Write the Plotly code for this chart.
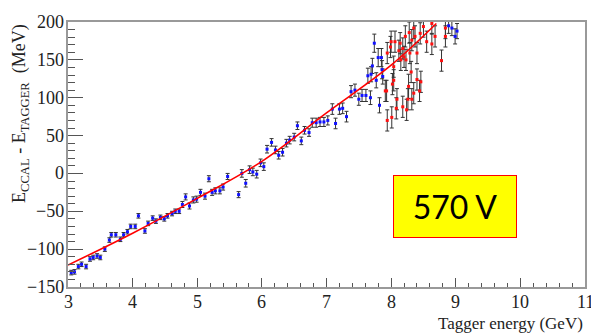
import plotly.graph_objects as go

# Blue data points (Tagger energy GeV, Ecal - Etagger MeV, error)
blue_x = [3.05, 3.10, 3.16, 3.21, 3.28, 3.34, 3.39, 3.45, 3.50, 3.57, 3.64, 3.67, 3.74, 3.81, 3.86,
          3.92, 3.97, 4.04, 4.09, 4.19, 4.24, 4.31, 4.36, 4.43, 4.49, 4.54, 4.61, 4.66, 4.72, 4.77,
          4.82, 4.88, 4.94, 4.99, 5.05, 5.12, 5.18, 5.23, 5.28, 5.35, 5.40, 5.47, 5.64, 5.69, 5.75,
          5.81, 5.86, 5.92, 5.98, 6.03, 6.08, 6.15, 6.21, 6.26, 6.32, 6.38, 6.43, 6.50, 6.55, 6.61,
          6.66, 6.73, 6.78, 6.84, 6.90, 6.96, 7.02, 7.09, 7.14, 7.20, 7.25, 7.31, 7.38, 7.44, 7.50,
          7.55, 7.61, 7.68, 7.64, 7.69, 7.71, 7.74, 7.77, 7.80, 7.85, 7.82, 7.86, 7.87, 8.89, 8.94,
          9.02, 8.99]
blue_y = [-131, -130, -123, -120, -123, -113, -111, -109, -111, -100, -88, -81, -81, -87, -81,
          -77, -70, -70, -56, -76, -66, -59, -63, -58, -60, -56, -53, -50, -50, -41,
          -31, -43, -35, -34, -25, -30, -7, -25, -23, -23, -18, -4, -28, 0, -13,
          5, 2, -1, 14, 9, 32, 41, 31, 24, 28, 40, 44, 48, 63, 43,
          57, 54, 67, 67, 68, 68, 70, 85, 66, 85, 86, 75, 108, 110, 98,
          103, 103, 100, 129, 131, 142, 172, 123, 153, 153, 90, 137, 128, 195, 192,
          188, 181]
blue_err = [3, 3, 3, 3, 3, 3, 3, 3, 3, 3, 3, 3, 3, 3, 3,
            3, 3, 3, 3, 3, 3, 3, 3, 3, 3, 3, 3, 3, 3, 4,
            4, 4, 4, 4, 4, 4, 4, 4, 4, 4, 4, 4, 4, 5, 5,
            5, 5, 5, 5, 5, 5, 5, 5, 5, 5, 5, 5, 5, 5, 5,
            5, 5, 6, 6, 6, 6, 6, 7, 7, 7, 7, 7, 8, 8, 8,
            8, 8, 9, 10, 10, 10, 12, 10, 12, 12, 10, 12, 10, 10, 10,
            10, 10]

# Red data points
red_x = [7.94, 8.01, 8.08, 8.09, 8.18, 8.24, 8.26, 8.32, 8.35, 8.27, 8.31, 8.40, 8.46, 8.02, 7.91,
         8.04, 8.15, 8.20, 8.23, 8.29, 8.40, 7.94, 7.99, 8.14, 8.00, 8.06, 8.22, 8.32, 8.37, 8.45,
         8.55, 8.63, 8.68, 8.35, 8.50, 8.63, 8.78, 8.84, 8.84, 7.93, 8.04, 8.44, 8.12, 8.18, 8.28]
red_y = [70, 74, 86, 98, 88, 84, 98, 98, 106, 115, 134, 124, 121, 118, 109,
         141, 150, 154, 150, 159, 159, 159, 167, 172, 174, 174, 181, 176, 181, 185,
         174, 171, 181, 192, 194, 198, 149, 181, 192, 109, 123, 109, 162, 165, 186]
red_err = [14, 14, 14, 14, 14, 14, 14, 14, 14, 16, 14, 14, 14, 14, 14,
           14, 14, 14, 14, 14, 14, 14, 14, 14, 14, 14, 14, 14, 14, 14,
           14, 14, 14, 14, 14, 14, 14, 14, 14, 14, 14, 14, 14, 14, 14]

# Fit curve
fit_x = [3.0, 4.0, 5.0, 6.0, 7.0, 8.0, 8.7]
fit_y = [-121, -79, -33, 16, 80, 143, 198]

x_ticks = [3, 4, 5, 6, 7, 8, 9, 10, 11]
x_labels = ["3", "4", "5", "6", "7", "8", "9", "10", "11"]
y_ticks = [-150, -100, -50, 0, 50, 100, 150, 200]
y_labels = ["\u2212150", "\u2212100", "\u221250", "0", "50", "100", "150", "200"]

serif = "Liberation Serif"
tick_font = dict(family=serif, size=18, color="#222222")

fig = go.Figure()
fig.add_trace(go.Scatter(
    x=blue_x, y=blue_y, mode="markers",
    marker=dict(color="#1010ff", size=3, symbol="square"),
    error_y=dict(type="data", array=blue_err, visible=True, color="#333333", thickness=1, width=2),
    showlegend=False, cliponaxis=True))
fig.add_trace(go.Scatter(
    x=red_x, y=red_y, mode="markers",
    marker=dict(color="#ff1010", size=3, symbol="square"),
    error_y=dict(type="data", array=red_err, visible=True, color="#333333", thickness=1, width=2),
    showlegend=False, cliponaxis=True))
fig.add_trace(go.Scatter(
    x=fit_x, y=fit_y, mode="lines", line=dict(color="#ff0000", width=1.6, shape="spline"),
    showlegend=False))

fig.update_layout(
    width=591, height=336,
    margin=dict(l=68, r=4, t=22, b=49),
    paper_bgcolor="white", plot_bgcolor="white",
    font=dict(family=serif, size=18, color="#222222"),
    xaxis=dict(range=[3, 11], tickvals=x_ticks, showticklabels=False,
               ticks="inside", ticklen=9, tickcolor="#555555",
               showgrid=False, zeroline=False, showline=True, mirror=True,
               linecolor="#999999", linewidth=2,
               minor=dict(dtick=0.2, ticks="inside", ticklen=4, tickcolor="#555555", showgrid=False)),
    yaxis=dict(range=[-150, 200], tickvals=y_ticks, showticklabels=False,
               ticks="inside", ticklen=15, tickcolor="#555555",
               showgrid=False, zeroline=False, showline=True, mirror=True,
               linecolor="#999999", linewidth=2,
               minor=dict(dtick=10, ticks="inside", ticklen=7, tickcolor="#555555", showgrid=False)),
)

# tick labels (serif, as in the ROOT original)
for xv, lab in zip(x_ticks, x_labels):
    fig.add_annotation(text=lab, xref="x", yref="paper", x=xv, y=0, yshift=-3,
                       xanchor="center", yanchor="top", showarrow=False, font=tick_font)
for yv, lab in zip(y_ticks, y_labels):
    fig.add_annotation(text=lab, xref="paper", yref="y", x=0, y=yv, xshift=-2,
                       xanchor="right", yanchor="middle", showarrow=False, font=tick_font)

fig.add_annotation(text="Tagger energy (GeV)", xref="paper", yref="paper",
                   x=1.0, y=-0.095, xanchor="right", yanchor="top", showarrow=False,
                   font=dict(family=serif, size=17, color="#222222"))
fig.add_annotation(text="E<sub>CCAL</sub> - E<sub>TAGGER</sub>  (MeV)", xref="paper", yref="paper",
                   x=-0.092, y=1.0, xanchor="center", yanchor="top", textangle=-90, showarrow=False,
                   font=dict(family=serif, size=18, color="#222222"))
fig.add_annotation(text="570 V", xref="x", yref="y", x=8.99, y=-43.7,
                   showarrow=False, bgcolor="#ffff00", bordercolor="#ff0000", borderwidth=1,
                   borderpad=0, width=122, height=61,
                   font=dict(family="Lato, Open Sans, sans-serif", size=32, color="black"))

fig.write_html("out.html")
